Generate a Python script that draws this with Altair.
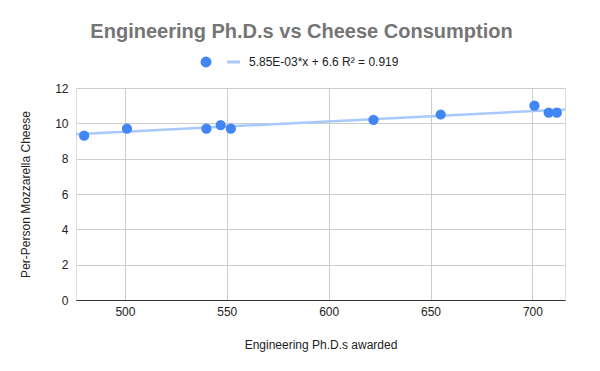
import altair as alt
import pandas as pd

years = [2000, 2001, 2002, 2003, 2004, 2005, 2006, 2007, 2008, 2009]
phds = [480, 501, 540, 552, 547, 622, 655, 701, 712, 708]
cheese = [9.3, 9.7, 9.7, 9.7, 9.9, 10.2, 10.5, 11.0, 10.6, 10.6]
x_ticks = [500, 550, 600, 650, 700]
y_ticks = [0, 2, 4, 6, 8, 10, 12]
legend_label = "5.85E-03*x + 6.6 R\u00b2 = 0.919"

df = pd.DataFrame({"year": years, "phd": phds, "cheese": cheese})

FONT = "Liberation Sans"
BLUE = "#4285f4"
TREND = "#a9c8fb"

xs = alt.Scale(domain=[476, 716], nice=False, zero=False)
ys = alt.Scale(domain=[0, 12], nice=False)

x_axis = alt.Axis(values=x_ticks, title="Engineering Ph.D.s awarded", grid=True,
                  gridColor="#cccccc", domainColor="#333333", domainWidth=1,
                  ticks=False, labelPadding=6, titlePadding=22, labelOverlap=False,
                  labelFont=FONT, labelFontSize=12, labelColor="#222222",
                  titleFont=FONT, titleFontSize=12, titleColor="#222222",
                  titleFontWeight="normal")
y_axis = alt.Axis(values=y_ticks, title="Per-Person Mozzarella Cheese", grid=True,
                  gridColor="#cccccc", domain=False, ticks=False, labelPadding=8,
                  titlePadding=22, labelOverlap=False,
                  labelFont=FONT, labelFontSize=12, labelColor="#222222",
                  titleFont=FONT, titleFontSize=12, titleColor="#222222",
                  titleFontWeight="normal")

base = alt.Chart(df)

trend = base.transform_regression("phd", "cheese", extent=[476, 716]).mark_line(
    color=TREND, strokeWidth=2.5, clip=True
).encode(x=alt.X("phd:Q", scale=xs, axis=x_axis), y=alt.Y("cheese:Q", scale=ys, axis=y_axis))

points = base.mark_circle(color=BLUE, size=105, opacity=1).encode(
    x=alt.X("phd:Q", scale=xs, axis=x_axis), y=alt.Y("cheese:Q", scale=ys, axis=y_axis)
)

leg_df = pd.DataFrame({"label": [legend_label]})
leg = alt.Chart(leg_df)
leg_dot = leg.mark_circle(color=BLUE, size=120, opacity=1).encode(
    x=alt.value(130), y=alt.value(-26))
leg_line = leg.mark_rule(color=TREND, strokeWidth=3).encode(
    x=alt.value(151), x2=alt.value(164), y=alt.value(-26))
leg_text = leg.mark_text(align="left", baseline="middle", font=FONT, fontSize=12,
                         color="#222222").encode(
    x=alt.value(173), y=alt.value(-26), text="label:N")

chart = alt.layer(trend, points, leg_dot, leg_line, leg_text).properties(
    width=489, height=212,
    title=alt.TitleParams("Engineering Ph.D.s vs Cheese Consumption", font=FONT,
                          fontSize=20, fontWeight="bold", color="#757575",
                          anchor="middle", offset=14, dx=-19),
    autosize=alt.AutoSizeParams(type="none"),
    padding={"left": 68, "top": 80, "right": 27, "bottom": 55},
).configure_view(stroke=None).configure(background="white")

chart.save("out.html", embed_options={"renderer": "svg", "actions": False})
